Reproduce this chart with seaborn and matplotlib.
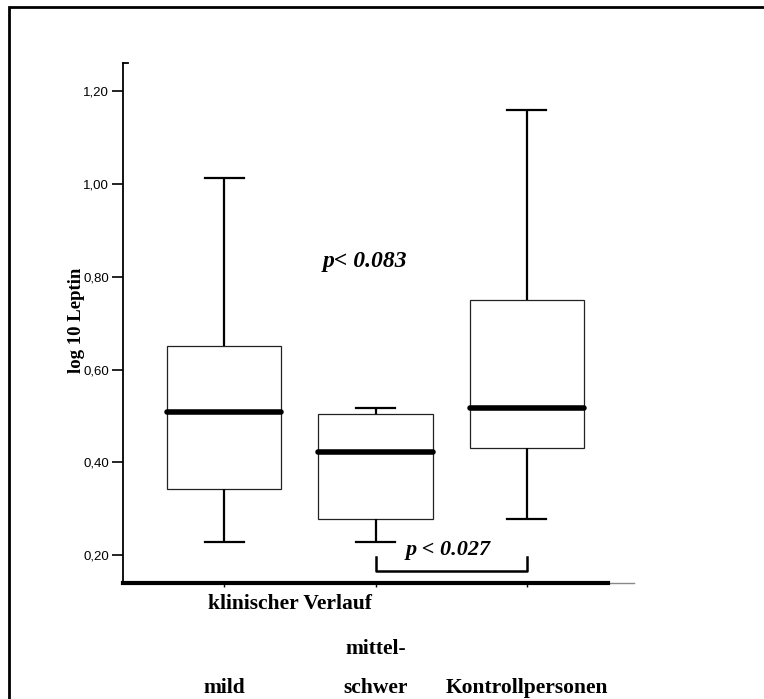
import numpy as np
import pandas as pd
import seaborn as sns
import matplotlib.pyplot as plt
from matplotlib.patches import Rectangle
from matplotlib.ticker import FuncFormatter

groups = ["mild", "mittel-schwer", "Kontrollpersonen"]
tick_labels = ["\nmild", "mittel-\nschwer", "\nKontrollpersonen"]
# five-number summaries: min, Q1, median, Q3, max
mild = [0.228, 0.342, 0.509, 0.650, 1.013]
mittelschwer = [0.228, 0.278, 0.422, 0.505, 0.518]
kontroll = [0.277, 0.430, 0.517, 0.749, 1.160]
yticks = [0.2, 0.4, 0.6, 0.8, 1.0, 1.2]

data = pd.DataFrame({
    "Verlauf": np.repeat(groups, 5),
    "Leptin": mild + mittelschwer + kontroll,
})

serif = "Liberation Serif"
sans = "Liberation Sans"

fig = plt.figure(figsize=(7.64, 6.99), dpi=100)
ax = fig.add_axes([0.161, 0.166, 0.669, 0.744])

sns.boxplot(
    data=data, x="Verlauf", y="Leptin", order=groups, whis=np.inf,
    width=0.755, color="white", linecolor="black", linewidth=1, ax=ax,
    boxprops=dict(edgecolor="#222222", linewidth=0.9),
    whiskerprops=dict(linewidth=1.6),
    capprops=dict(linewidth=1.6),
    medianprops=dict(linewidth=4, color="black", solid_capstyle="round"),
    capwidths=0.26,
)

ax.set_xlim(-0.67, 2.71)
ax.set_ylim(0.14, 1.261)
ax.set_yticks(yticks)
ax.yaxis.set_major_formatter(FuncFormatter(lambda v, p: f"{v:.2f}".replace(".", ",")))
ax.set_xticks(range(len(groups)))
ax.set_xticklabels(tick_labels, fontfamily=serif, fontweight="bold",
                   fontsize=15.5, linespacing=2.3)
for lab in ax.get_yticklabels():
    lab.set_fontfamily(sans)
ax.tick_params(axis="y", direction="out", length=8, width=1.2, labelsize=9.5, pad=2)
ax.tick_params(axis="x", direction="out", length=3, width=1, pad=37)

for s in ["top", "right"]:
    ax.spines[s].set_visible(False)
ax.spines["left"].set_linewidth(1.3)
ax.spines["bottom"].set_linewidth(3)
ax.spines["bottom"].set_bounds(-0.67, 2.54)
ax.plot([-0.67, 2.71], [0.14, 0.14], color="#888888", lw=1, clip_on=False, zorder=1)
ax.plot([-0.67, -0.635], [1.261, 1.261], color="black", lw=1.3, clip_on=False)

ax.set_xlabel("")
ax.set_ylabel("log 10 Leptin", fontfamily=serif, fontweight="bold", fontsize=13.5)
ax.yaxis.set_label_coords(-0.075, 0.506)
fig.text(290 / 764, 1 - 604 / 699, "klinischer Verlauf", ha="center", va="center",
         fontfamily=serif, fontweight="bold", fontsize=15.5)

ax.text(0.93, 0.834, "p< 0.083", ha="center", va="center", fontfamily=serif,
        fontweight="bold", fontstyle="italic", fontsize=17)
ax.plot([1, 1, 2, 2], [0.196, 0.165, 0.165, 0.196], color="black", lw=1.8)
ax.text(1.48, 0.212, "p < 0.027", ha="center", va="center", fontfamily=serif,
        fontweight="bold", fontstyle="italic", fontsize=16)

fig.add_artist(Rectangle((9 / 764, -0.1), 1.2, 1.1 - 7 / 699, fill=False,
                         lw=2, edgecolor="black", transform=fig.transFigure))

plt.savefig("out.png", dpi=100)
